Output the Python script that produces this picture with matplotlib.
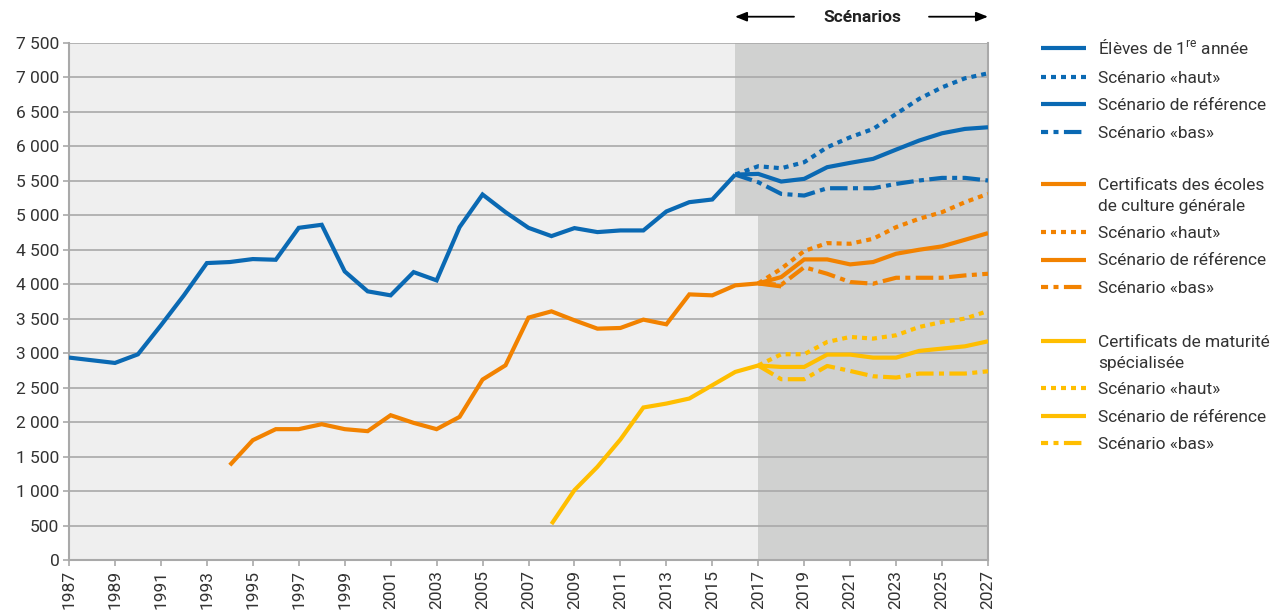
import matplotlib
matplotlib.use("Agg")
import matplotlib.pyplot as plt
from matplotlib.lines import Line2D
from matplotlib.patches import Rectangle, FancyArrowPatch
from matplotlib.ticker import FuncFormatter, MultipleLocator

plt.rcParams['font.family'] = ['Roboto', 'DejaVu Sans']
plt.rcParams['mathtext.fontset'] = 'custom'
plt.rcParams['mathtext.rm'] = 'Roboto'
plt.rcParams['mathtext.it'] = 'Roboto'

# ---------------- data ----------------
blue_hist_years = list(range(1987, 2017))
blue_hist = [2935, 2896, 2857, 2982, 3402, 3837, 4305, 4320, 4363, 4353, 4816, 4860,
             4184, 3895, 3837, 4174, 4054, 4826, 5299, 5043, 4816, 4696, 4812, 4754,
             4778, 4778, 5053, 5188, 5227, 5588]
blue_scen_years = list(range(2016, 2028))
blue_ref = [5588, 5598, 5487, 5526, 5695, 5758, 5816, 5950, 6081, 6187, 6250, 6274]
blue_high = [5588, 5709, 5680, 5767, 5984, 6129, 6250, 6467, 6685, 6853, 6984, 7056]
blue_low = [5588, 5477, 5308, 5284, 5390, 5390, 5390, 5453, 5502, 5540, 5540, 5502]

orange_hist_years = list(range(1994, 2019))
orange_hist = [1375, 1737, 1897, 1897, 1969, 1897, 1868, 2099, 1988, 1897, 2075, 2616,
               2823, 3514, 3605, 3475, 3354, 3364, 3485, 3417, 3851, 3837, 3982, 4010, 3967]
orange_scen_years = list(range(2017, 2028))
orange_ref = [4010, 4102, 4358, 4358, 4286, 4320, 4440, 4498, 4547, 4643, 4739]
orange_high = [4010, 4223, 4480, 4594, 4585, 4657, 4826, 4947, 5043, 5188, 5309]
orange_low = [4010, 3990, 4245, 4150, 4030, 4006, 4092, 4092, 4092, 4126, 4150]

yellow_hist_years = list(range(2008, 2018))
yellow_hist = [521, 1013, 1351, 1747, 2211, 2268, 2341, 2534, 2727, 2820]
yellow_scen_years = list(range(2017, 2028))
yellow_ref = [2820, 2799, 2799, 2978, 2978, 2934, 2934, 3031, 3065, 3098, 3171]
yellow_high = [2820, 2983, 2983, 3161, 3234, 3210, 3258, 3378, 3451, 3500, 3610]
yellow_low = [2820, 2621, 2621, 2813, 2741, 2664, 2645, 2703, 2703, 2703, 2736]

x_ticks = list(range(1987, 2028, 2))
y_max = 7500
scen_start_upper = 2016
scen_start_lower = 2017
scen_split_value = 5000

group_labels = [
    "Élèves de 1$^{\\mathrm{re}}$ année",
    "Certificats des écoles\nde culture générale",
    "Certificats de maturité\nspécialisée",
]
scen_labels = ["Scénario «haut»", "Scénario de référence", "Scénario «bas»"]
header_label = "Scénarios"

# ---------------- style ----------------
BLUE = "#0a69b3"
ORANGE = "#f28200"
YELLOW = "#ffbe00"
BG = "#efefef"
SHADE = "#d0d1d0"
GRID = "#a9a9a9"
TXT = "#333333"
LW = 3.0
FS = 12.5
DOT = (0, (1.2, 1.2))
DASHDOT = (0, (4.2, 1.3, 1.2, 1.3))

W, H = 1280, 610
fig = plt.figure(figsize=(W / 100, H / 100), dpi=100)
ax = fig.add_axes([69 / W, 1 - 560 / H, (988 - 69) / W, (560 - 42.7) / H])
ax.set_facecolor(BG)
ax.set_xlim(1987, 2027)
ax.set_ylim(0, y_max)

# scenario shading
ax.add_patch(Rectangle((scen_start_upper, scen_split_value), 2027 - scen_start_upper,
                       y_max - scen_split_value, facecolor=SHADE, edgecolor='none', zorder=0.2))
ax.add_patch(Rectangle((scen_start_lower, 0), 2027 - scen_start_lower,
                       scen_split_value, facecolor=SHADE, edgecolor='none', zorder=0.2))

ax.set_axisbelow(True)
ax.yaxis.set_major_locator(MultipleLocator(500))
ax.grid(axis='y', color=GRID, lw=1.2)
ax.set_xticks(x_ticks)
ax.set_xticklabels([str(t) for t in x_ticks], rotation=90)
ax.yaxis.set_major_formatter(FuncFormatter(lambda v, p: f"{int(v):,}".replace(",", " ")))
ax.tick_params(axis='both', colors=GRID, labelcolor=TXT, labelsize=FS, length=4, width=1.2, pad=3)

for s in ['left', 'bottom', 'right']:
    ax.spines[s].set_color(GRID)
    ax.spines[s].set_linewidth(1.5)
ax.spines['top'].set_visible(False)

def draw(xs, ys, color, ls):
    ax.plot(xs, ys, color=color, lw=LW, ls=ls, solid_capstyle='butt',
            dash_capstyle='butt', solid_joinstyle='miter', zorder=3)

draw(blue_hist_years, blue_hist, BLUE, '-')
draw(blue_scen_years, blue_ref, BLUE, '-')
draw(blue_scen_years, blue_high, BLUE, DOT)
draw(blue_scen_years, blue_low, BLUE, DASHDOT)

draw(orange_hist_years, orange_hist, ORANGE, '-')
draw(orange_scen_years, orange_ref, ORANGE, '-')
draw(orange_scen_years, orange_high, ORANGE, DOT)
draw(orange_scen_years, orange_low, ORANGE, DASHDOT)

draw(yellow_hist_years, yellow_hist, YELLOW, '-')
draw(yellow_scen_years, yellow_ref, YELLOW, '-')
draw(yellow_scen_years, yellow_high, YELLOW, DOT)
draw(yellow_scen_years, yellow_low, YELLOW, DASHDOT)

# ---------------- header ----------------
def fx(px):
    return px / W

def fy(py):
    return 1 - py / H

fig.text(fx(862), fy(17), header_label, ha='center', va='center', fontsize=FS,
         fontweight='bold', color='#222222')
arrow_kw = dict(arrowstyle='-|>,head_length=0.7,head_width=0.28', color='black', lw=1.3,
                shrinkA=0, shrinkB=0, mutation_scale=10)
fig.add_artist(FancyArrowPatch((fx(794), fy(16.7)), (fx(735), fy(16.7)),
                               transform=fig.transFigure, **arrow_kw))
fig.add_artist(FancyArrowPatch((fx(929), fy(16.7)), (fx(988), fy(16.7)),
                               transform=fig.transFigure, **arrow_kw))

# ---------------- legend ----------------
group_colors = [BLUE, ORANGE, YELLOW]
group_rows = [
    [48.3, 76.7, 104.3, 132.3],
    [184.3, 232.0, 259.5, 287.3],
    [340.7, 388.3, 415.8, 443.3],
]
styles = ['-', DOT, '-', (2.5, (4.2, 1.3, 1.2, 1.3))]
for label, color, rows in zip(group_labels, group_colors, group_rows):
    texts = [label] + scen_labels
    for i, (yy, t) in enumerate(zip(rows, texts)):
        fig.add_artist(Line2D([fx(1041), fx(1086)], [fy(yy), fy(yy)], transform=fig.transFigure,
                              color=color, lw=LW, ls=styles[i], solid_capstyle='butt',
                              dash_capstyle='butt'))
        for j, ln in enumerate(t.split("\n")):
            fig.text(fx(1098), fy(yy + 6 + j * 21), ln, ha='left', va='baseline',
                     fontsize=FS, color=TXT)

fig.savefig("out.png", dpi=100)
